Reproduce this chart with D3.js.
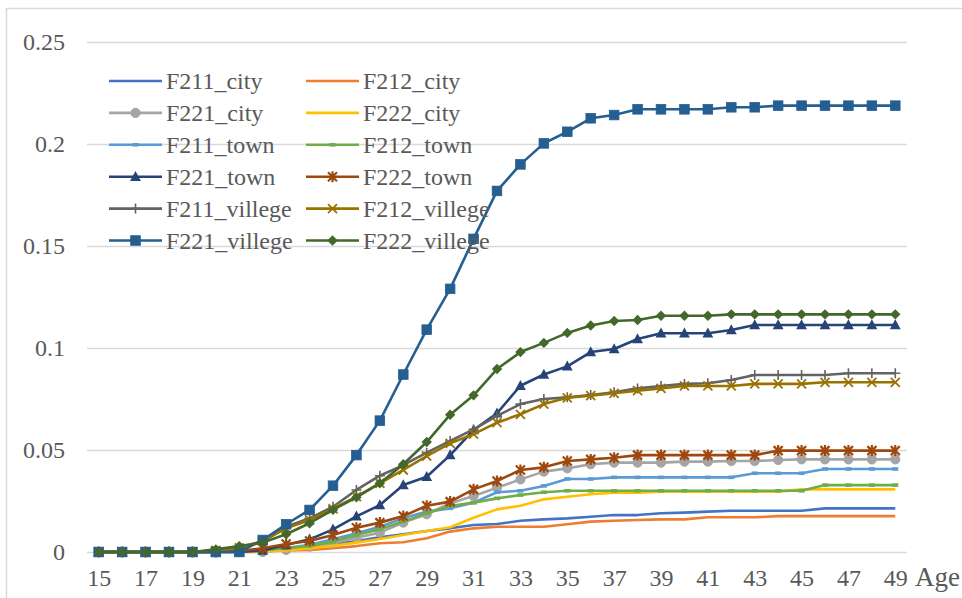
<!DOCTYPE html>
<html>
<head>
<meta charset="utf-8">
<script src="https://cdn.jsdelivr.net/npm/d3@7"></script>
<style>
  html, body { margin: 0; padding: 0; background: #fff; }
  svg { display: block; }
  svg text { font-family: "Liberation Serif", "Times New Roman", serif; }
</style>
</head>
<body>
<div id="chart"></div>
<script>
// Ages on the category axis
const ages = d3.range(15, 50);
const xTickLabels = ["15","17","19","21","23","25","27","29","31","33","35","37","39","41","43","45","47","49"];
const yTickValues = [0, 0.05, 0.1, 0.15, 0.2, 0.25];
const yTickLabels = ["0", "0.05", "0.1", "0.15", "0.2", "0.25"];

const seriesNames = ["F211_city","F212_city","F221_city","F222_city","F211_town","F212_town",
                     "F221_town","F222_town","F211_villege","F212_villege","F221_villege","F222_villege"];
const seriesColors = ["#4472C4","#ED7D31","#A5A5A5","#FFC000","#5B9BD5","#70AD47",
                      "#264478","#9E480E","#636363","#997300","#255E91","#43682B"];
const seriesMarkers = ["none","none","circle","none","dash","dash",
                       "triangle","asterisk","plus","cross","square","diamond"];

// Cumulative values, ages 15..49
const F211_city = [0,0,0,0,0,0,0.0005,0.001,0.0015,0.0026,0.0038,0.0054,0.0072,0.0087,0.0103,0.0116,0.0132,0.0137,0.0153,0.016,0.0165,0.0173,0.0181,0.0181,0.019,0.0193,0.0198,0.0202,0.0202,0.0202,0.0202,0.0214,0.0214,0.0214,0.0214];
const F212_city = [0,0,0,0,0,0,0.0003,0.0005,0.0007,0.001,0.0018,0.0029,0.0043,0.0048,0.0067,0.01,0.0116,0.0124,0.0124,0.0124,0.0136,0.0149,0.0153,0.0157,0.016,0.016,0.017,0.017,0.017,0.0176,0.0176,0.0176,0.0176,0.0176,0.0176];
const F221_city = [0,0,0,0,0,0,0,0,0.001,0.0026,0.0043,0.007,0.0095,0.0144,0.0185,0.0239,0.0275,0.0315,0.0356,0.0394,0.041,0.043,0.0438,0.0438,0.0438,0.0443,0.0443,0.0446,0.0446,0.0451,0.0454,0.0454,0.0454,0.0454,0.0454];
const F222_city = [0,0,0,0,0,0,0,0.0003,0.0008,0.0018,0.0031,0.0046,0.0064,0.0083,0.0103,0.0121,0.0168,0.0209,0.0227,0.0258,0.0271,0.0283,0.0291,0.0291,0.0296,0.0296,0.0296,0.0296,0.0296,0.0296,0.0307,0.0307,0.0307,0.0307,0.0307];
const F211_town = [0,0,0,0,0,0,0.0005,0.001,0.002,0.0035,0.0062,0.0092,0.0124,0.0165,0.0198,0.0214,0.0242,0.0293,0.03,0.0324,0.0358,0.0358,0.0366,0.0366,0.0366,0.0366,0.0366,0.0366,0.0386,0.0386,0.0386,0.0407,0.0407,0.0407,0.0407];
const F212_town = [0,0,0,0,0,0,0.0005,0.001,0.0018,0.003,0.005,0.0083,0.0111,0.0149,0.019,0.0225,0.0242,0.0263,0.0279,0.0293,0.03,0.03,0.03,0.03,0.03,0.03,0.03,0.03,0.03,0.03,0.03,0.0328,0.0328,0.0328,0.0328];
const F221_town = [0,0,0,0,0,0,0,0.0007,0.0034,0.0062,0.0111,0.0175,0.023,0.0328,0.0369,0.0475,0.0598,0.068,0.0815,0.087,0.091,0.098,0.0995,0.1044,0.1072,0.1072,0.1072,0.1088,0.1113,0.1113,0.1113,0.1113,0.1113,0.1113,0.1113];
const F222_town = [0,0,0,0,0,0,0.0005,0.0018,0.0039,0.0054,0.0083,0.0119,0.0144,0.0176,0.0227,0.0247,0.0307,0.0348,0.0402,0.0415,0.0446,0.0454,0.0462,0.0475,0.0475,0.0475,0.0475,0.0475,0.0475,0.0497,0.0497,0.0497,0.0497,0.0497,0.0497];
const F211_villege = [0,0,0,0,0,0.0008,0.002,0.005,0.0124,0.0165,0.0222,0.0304,0.0374,0.0426,0.0487,0.0544,0.0601,0.0667,0.0725,0.075,0.0758,0.077,0.0783,0.0802,0.0814,0.0824,0.0827,0.0843,0.0868,0.0868,0.0868,0.0868,0.0876,0.0876,0.0876];
const F212_villege = [0,0,0,0,0,0.0008,0.002,0.0054,0.0116,0.0157,0.0212,0.0271,0.0337,0.0402,0.047,0.0533,0.0578,0.0634,0.0675,0.0725,0.0756,0.0766,0.0778,0.0791,0.0802,0.0814,0.0814,0.0814,0.0824,0.0824,0.0824,0.0832,0.0832,0.0832,0.0832];
const F221_villege = [0,0,0,0,0,0,0,0.0059,0.0136,0.0206,0.0325,0.0475,0.0644,0.087,0.109,0.129,0.1535,0.177,0.19,0.2003,0.206,0.2126,0.2142,0.217,0.217,0.217,0.217,0.218,0.218,0.2188,0.2188,0.2188,0.2188,0.2188,0.2188];
const F222_villege = [0,0,0,0,0,0.0013,0.0029,0.0046,0.0087,0.0141,0.0207,0.0268,0.0337,0.043,0.0539,0.0673,0.0768,0.0897,0.098,0.1025,0.1074,0.111,0.1132,0.1137,0.1158,0.1158,0.1158,0.1165,0.1165,0.1165,0.1165,0.1165,0.1165,0.1165,0.1165];

const seriesValues = [F211_city, F212_city, F221_city, F222_city, F211_town, F212_town,
                      F221_town, F222_town, F211_villege, F212_villege, F221_villege, F222_villege];

const W = 962, H = 598;
const TEXT = "#595959";
const GRID = "#D9D9D9";

const svg = d3.select("#chart").append("svg")
  .attr("width", W).attr("height", H);

svg.append("rect").attr("width", W).attr("height", H).attr("fill", "#fff");
// chart frame
svg.append("rect")
  .attr("x", 6.5).attr("y", 8.5).attr("width", W + 20).attr("height", H + 20)
  .attr("fill", "none").attr("stroke", GRID).attr("stroke-width", 1.5);

const plotLeft = 87, plotRight = 907, plotTop = 42, plotBottom = 552;

const x = d3.scalePoint().domain(ages).range([plotLeft, plotRight]).padding(0.5);
const y = d3.scaleLinear().domain([0, 0.25]).range([plotBottom, plotTop]);

// horizontal gridlines + value labels
const yAxis = d3.axisLeft(y).tickValues(yTickValues)
  .tickFormat((d, i) => yTickLabels[i])
  .tickSize(-(plotRight - plotLeft)).tickPadding(22);
const gy = svg.append("g").attr("transform", `translate(${plotLeft},0)`).call(yAxis)
  .attr("font-family", null);
gy.select(".domain").remove();
gy.selectAll(".tick line").attr("stroke", GRID).attr("stroke-width", 1.5);
gy.selectAll(".tick text").attr("fill", TEXT).style("font-size", "24px").attr("dy", "0.33em");

// category labels
const xAxis = d3.axisBottom(x).tickValues(xTickLabels.map(Number))
  .tickFormat((d) => String(d)).tickSize(0).tickPadding(17);
const gx = svg.append("g").attr("transform", `translate(0,${plotBottom})`).call(xAxis)
  .attr("font-family", null);
gx.select(".domain").remove();
gx.selectAll(".tick text").attr("fill", TEXT).style("font-size", "24px");

svg.append("text").attr("x", 915).attr("y", 586)
  .attr("fill", TEXT).style("font-size", "27px").text("Age");

// marker drawing
function drawMarker(g, type, color) {
  switch (type) {
    case "circle":
      g.append("circle").attr("r", 4.6).attr("fill", color).attr("stroke", color);
      break;
    case "square":
      g.append("rect").attr("x", -4.8).attr("y", -4.8).attr("width", 9.6).attr("height", 9.6)
        .attr("fill", color).attr("stroke", color).attr("stroke-width", 0.8);
      break;
    case "triangle":
      g.append("path").attr("d", "M0,-5.8L5.4,4.2L-5.4,4.2Z").attr("fill", color);
      break;
    case "diamond":
      g.append("path").attr("d", "M0,-5.2L5.2,0L0,5.2L-5.2,0Z").attr("fill", color);
      break;
    case "asterisk":
      g.append("path").attr("d", "M-4.5,-4.5L4.5,4.5M-4.5,4.5L4.5,-4.5M0,-5.5L0,5.5")
        .attr("stroke", color).attr("stroke-width", 2.2).attr("fill", "none");
      break;
    case "cross":
      g.append("path").attr("d", "M-4.5,-4.5L4.5,4.5M-4.5,4.5L4.5,-4.5")
        .attr("stroke", color).attr("stroke-width", 1.8).attr("fill", "none");
      break;
    case "plus":
      g.append("path").attr("d", "M0,-5L0,5M-5,0L5,0")
        .attr("stroke", color).attr("stroke-width", 1.6).attr("fill", "none");
      break;
    case "dash":
      g.append("rect").attr("x", -3).attr("y", -1.8).attr("width", 6).attr("height", 3.6)
        .attr("fill", color);
      break;
  }
}

const line = d3.line().x((d, i) => x(ages[i])).y((d) => y(d));

const plot = svg.append("g");
seriesNames.forEach((name, s) => {
  const g = plot.append("g");
  g.append("path").datum(seriesValues[s])
    .attr("d", line).attr("fill", "none")
    .attr("stroke", seriesColors[s]).attr("stroke-width", 2.6)
    .attr("stroke-linejoin", "round");
  if (seriesMarkers[s] !== "none") {
    seriesValues[s].forEach((v, i) => {
      const m = g.append("g").attr("transform", `translate(${x(ages[i])},${y(v)})`);
      drawMarker(m, seriesMarkers[s], seriesColors[s]);
    });
  }
});

// legend: two columns, six rows
const legend = svg.append("g");
const colX = [109, 306], rowY0 = 81, rowStep = 31.9, lineLen = 53;
seriesNames.forEach((name, s) => {
  const col = s % 2, row = Math.floor(s / 2);
  const lx = colX[col], ly = rowY0 + row * rowStep;
  const g = legend.append("g").attr("transform", `translate(${lx},${ly})`);
  g.append("line").attr("x1", 0).attr("x2", lineLen).attr("y1", 0).attr("y2", 0)
    .attr("stroke", seriesColors[s]).attr("stroke-width", 2.6);
  if (seriesMarkers[s] !== "none") {
    const m = g.append("g").attr("transform", `translate(${lineLen / 2},0)`);
    drawMarker(m, seriesMarkers[s], seriesColors[s]);
  }
  g.append("text").attr("x", lineLen + 4).attr("y", 0).attr("dy", "0.35em")
    .attr("fill", TEXT).style("font-size", "24px").text(name);
});
</script>
</body>
</html>
